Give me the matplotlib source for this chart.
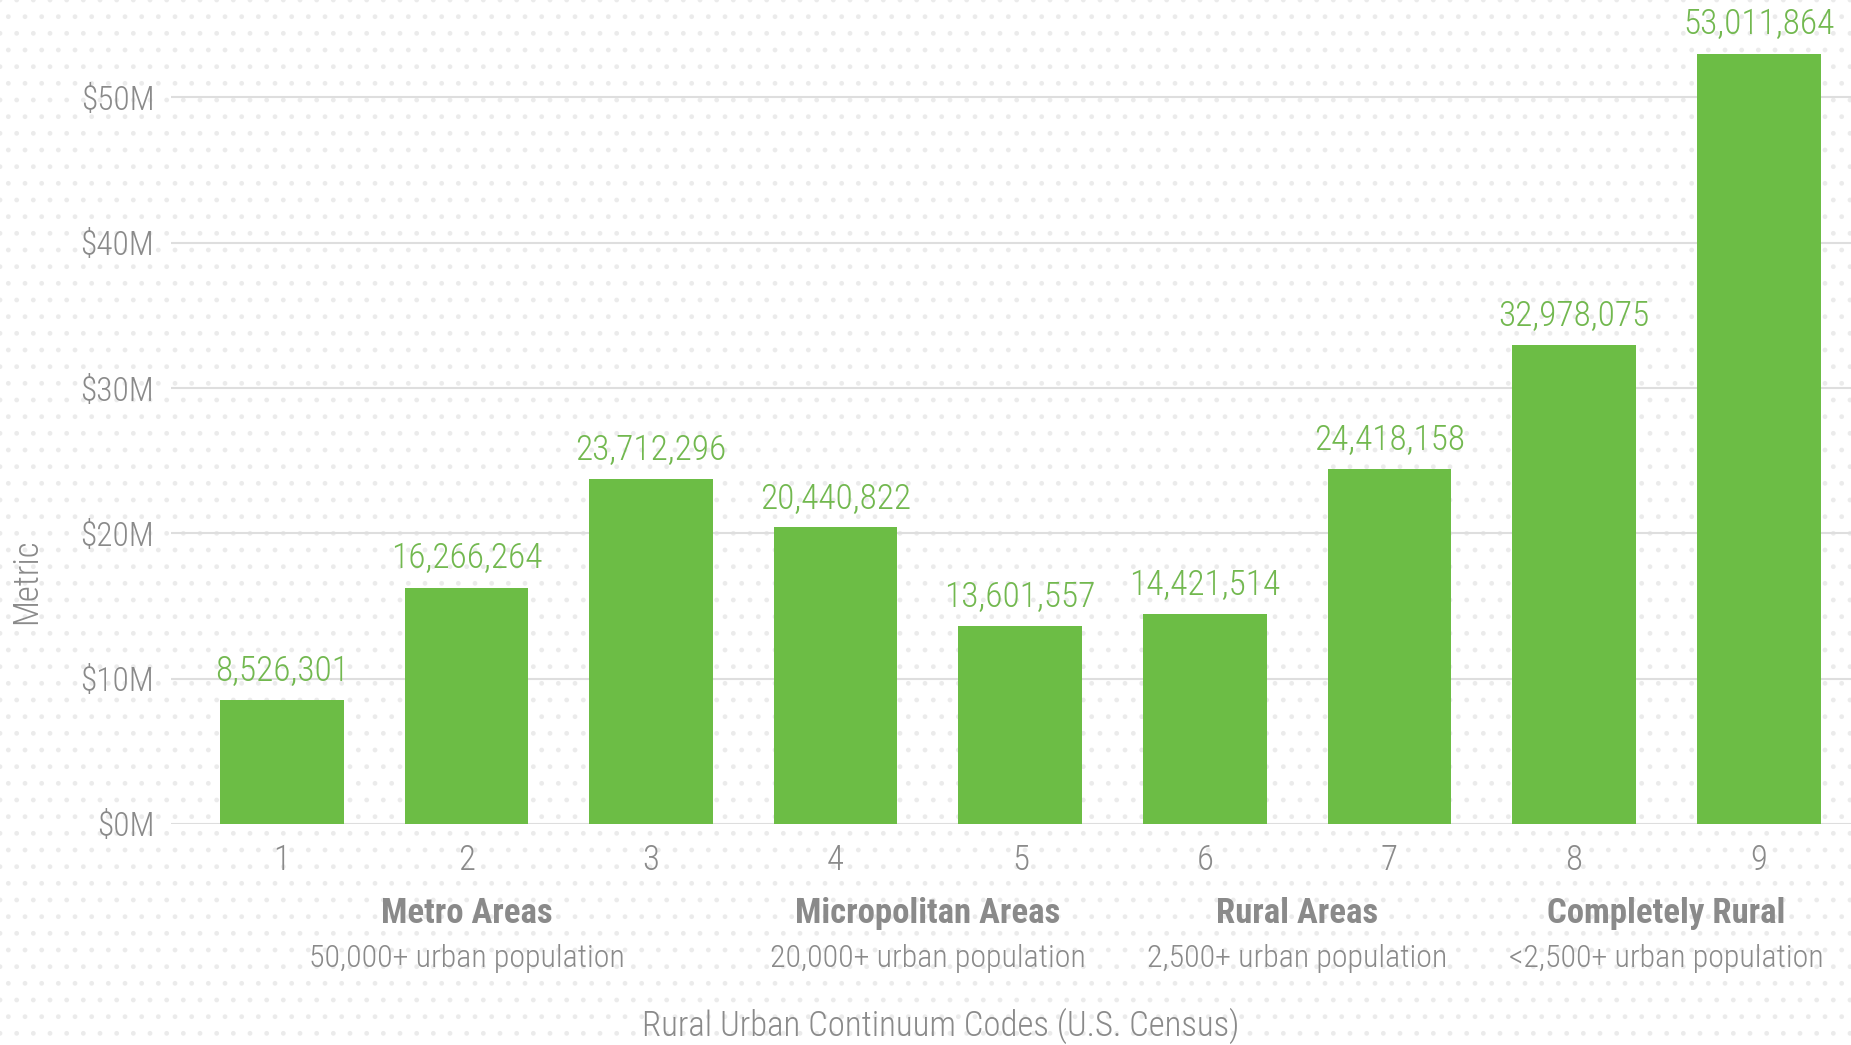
import matplotlib
matplotlib.use("Agg")
import matplotlib.pyplot as plt
from matplotlib.patches import Rectangle

codes = [1, 2, 3, 4, 5, 6, 7, 8, 9]
valores = [8526301, 16266264, 23712296, 20440822, 13601557,
           14421514, 24418158, 32978075, 53011864]
grupos = ["Metro Areas", "Micropolitan Areas", "Rural Areas", "Completely Rural"]
grupos_sub = ["50,000+ urban population", "20,000+ urban population",
              "2,500+ urban population", "<2,500+ urban population"]
grupos_x = [2, 4.5, 6.5, 8.5]
yticks = [0, 10e6, 20e6, 30e6, 40e6, 50e6]

VERDE = "#6cbd45"
VERDE_TXT = "#72b84f"
GRIS = "#8a8a8a"
FUENTE = ["Roboto Condensed", "DejaVu Sans"]

plt.rcParams['font.family'] = FUENTE

fig = plt.figure(figsize=(18.51, 10.45), dpi=100)
fig.patch.set_facecolor("white")
# fondo punteado
fondo = Rectangle((0, 0), 1, 1, transform=fig.transFigure, facecolor="white",
                  edgecolor="#ebebeb", hatch=".", linewidth=0, zorder=-5)
fig.patches.append(fondo)

ax = fig.add_axes([0.0924, 0.2115, 0.9076, 0.7885])
ax.set_facecolor("none")

ax.bar(codes, valores, width=0.67, color=VERDE, zorder=3)
for x, v in zip(codes, valores):
    ax.text(x, v + 0.85e6, f"{v:,}", ha="center", va="bottom",
            fontsize=25.5, fontweight=300, color=VERDE_TXT, zorder=4)

ax.set_xlim(0.4, 9.5)
ax.set_ylim(0, 56.7e6)
ax.set_yticks(yticks)
ax.set_yticklabels([f"${int(t/1e6)}M" for t in yticks])
ax.set_xticks(codes)
ax.set_xticklabels([str(c) for c in codes])
ax.tick_params(axis="both", length=0, labelsize=25, labelcolor=GRIS)
ax.tick_params(axis="y", labelsize=24, pad=12)
ax.tick_params(axis="x", pad=14)
for lab in ax.get_xticklabels() + ax.get_yticklabels():
    lab.set_fontweight(300)
ax.grid(axis="y", color="#dedede", linewidth=1.5, zorder=0)
for s in ax.spines.values():
    s.set_visible(False)

for gx, g, sub in zip(grupos_x, grupos, grupos_sub):
    ax.annotate(g, xy=(gx, 0), xycoords=("data", "axes fraction"),
                xytext=(0, -90), textcoords="offset pixels", ha="center", va="center",
                fontsize=25, fontweight="bold", color=GRIS)
    ax.annotate(sub, xy=(gx, 0), xycoords=("data", "axes fraction"),
                xytext=(0, -135), textcoords="offset pixels", ha="center", va="center",
                fontsize=23, fontweight=300, color=GRIS)

fig.text(941 / 1851, 1 - 1026 / 1045, "Rural Urban Continuum Codes (U.S. Census)",
         ha="center", va="center", fontsize=25, fontweight=300, color=GRIS)
fig.text(26 / 1851, 1 - 581 / 1045, "Metric", rotation=90,
         ha="center", va="center", fontsize=25, fontweight=300, color=GRIS)

fig.savefig("out.png", dpi=100)
